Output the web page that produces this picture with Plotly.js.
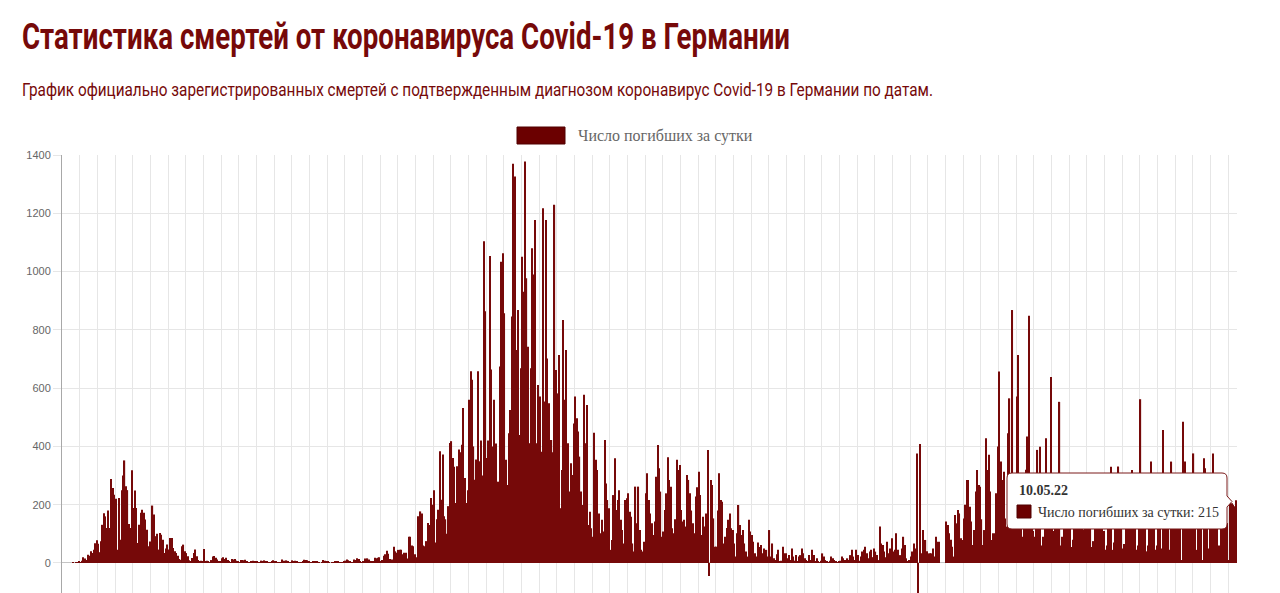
<!DOCTYPE html>
<html><head><meta charset="utf-8">
<script src="https://cdn.plot.ly/plotly-3.0.1.min.js"></script>
<style>html,body{margin:0;padding:0;background:#fff;overflow:hidden}#chart{width:1280px;height:593px}</style>
</head><body><div id="chart"></div>
<script>
// ---------- data ----------
const startDate = [2020, 2, 4]; // 04.03.2020, first day of the series (UTC y, m0, d)
const seriesName = 'Число погибших за сутки';
const chartTitle = 'Статистика смертей от коронавируса Covid-19 в Германии';
const chartSubtitle = 'График официально зарегистрированных смертей с подтвержденным диагнозом коронавирус Covid-19 в Германии по датам.';
const yTickValues = [0, 200, 400, 600, 800, 1000, 1200, 1400];

const wave1 = [0,0,0,0,0,0,0,2,0,1,
  1,5,3,8,20,15,10,28,25,40,
  34,45,68,78,66,37,75,131,171,160,
  120,180,120,288,257,234,220,45,223,80,
  250,300,352,263,250,134,120,318,189,249,
  189,69,131,172,183,172,149,114,57,74,
  71,197,166,92,100,46,103,97,80,34,
  50,63,46,86,86,51,40,34,25,14,
  11,57,63,40,34,23,9,6,17,34,
  46,23,10,6,8,6,48,5,8];
const summer2020 = [5,3,10,22,24,18,12, 7,4,16,20,14,18,10, 4,3,14,12,14,8,6,
  2,10,10,9,11,6,2, 1,7,8,6,7,4,1, 2,8,6,9,7,5,1, 2,7,9,6,7,3,1,
  1,12,8,5,9,4,1, 2,9,7,8,6,3,1, 1,6,11,10,9,5,1, 1,4,6,5,5,3,0,
  1,10,8,6,4,2,0, 1,2,5,7,6,3,1, 1,6,8,12,9,4,2, 3,12,10,16,14,6,3,
  4,15,12,16,12,7,4, 6,18,16,18,20,5, 10,25,30,42,32,14,8, 12,56,40,35,45];
const wave2Rise = [45,45,30,35,35,15,90,90,60,57,
  30,20,160,150,177,170,60,57,75,137,
  130,223,200,250,70,150,183,383,217,372,
  160,150,100,195,412,418,360,330,206,332,
  389,380,406,532,292,206,250,560,658,629,
  400,286,355,658,349,420,300,1104,864,360,
  420,1053,664,400];
const wave2Peak = [560,410,170,279,674,1034,1063,857,354,268,
  445,525,846,1370,1326,731,868,439,668,1051,
  931,1378,977,742,411,668,1080,990,1177,411,
  611,571,382,1217,554,1177,702,548,365,422,
  380,1229,662,582,714,188,319,834,560,731,
  411];
const wave2Decline = [245,342,302,479,571,497,451,365,245,199,
  577,411,542,130,176,119,90,447,354,319,
  170,102,148,108,422,273,216,188,45,79,
  233,359,182,216,250,148,113,67,216,222,
  239,176,159,67,39,262,136,262,113,45,
  39,73];
const wave3 = [239,308,216,170,136,96,142,296,405,325,
  245,90,108,182,239,363,285,262,119,102,
  150,354,319,336,182,142,148,125,302,285,
  239,180,136,102,228,260,313,233,96,159,
  125,170,388,-45,285,268,153,56,56,180,
  308,216,210,67,90,120,148,170,119,113,
  67,22,102,199,130,96,113,67,39,22,
  148,108,96,73,33,22,70,55,62,33,
  50];
const summer2021 = [16,45,22,113,22,67,16,10,30,45,
  5,8,56,33,33,16,27,10,50,22,
  8,27,5,22,27,50,33,16,10,5,
  27,10,45,27,5,16,5,3,8,33,
  22,10,5,2,8,22,16,10,5,2,
  4,8,22,16,10,5,16,10,27,45,
  22,10,45,27,8,22,39,45,56,33,
  16,39,45,20,50,39,27,10,125,67,
  62,39,20,73,33,50,85,39,45,102,
  45,20,27,50,90,62,16,5,10,22,
  39,67,50,376,-150,408,33,113,33,79,
  40,33,33,33,50,22,90,73,73,0,
  0,0,0];
const wave4 = [142,130,102,80,56,22,165,136,182,170,
  85,79,153,200,285,285,193,142,62,113,
  245,319,268,262,150,62,113,428,319,371,
  245,79,102,102,239,400,657,348,285,313,
  153,125,445,565,296];
const omicron = [868,250,180,571,714,300,150,90,260,320,
  434,848,300,200,110,90,260,388,300,399,
  60,90,280,428,300,250,638,120,110,260,
  300,240,553,60,90,250,290,295,280,230,
  55,80,260,300,300,270,240,120,115,270,
  290,295,260,230,55,75,250,290,300,260,
  200,120,110,45,60,300,250,330,45,70,
  260,290,331,240,200,50,65,230,280,300,
  250,319,240,250,45,60,260,562,290,250,
  230,40,60,280,348,270,230,45,60,260,
  300,50,456,280,240,230,200,45,348,270,
  240,220,200,250,280,10,485,348,260,230,
  220,200,60,376,270,45,240,250,230,10,
  359,325,240,50,210,260,376,250,220,200,
  60,40,230,260,280,240,137,10,210,205,
  200,195,215];

// ---------- build ----------
const deaths = [].concat(wave1, summer2020, wave2Rise, wave2Peak, wave2Decline, wave3, summer2021, wave4, omicron);
const dates = deaths.map((_, i) => {
  const d = new Date(Date.UTC(startDate[0], startDate[1], startDate[2] + i));
  return d.toISOString().slice(0, 10);
});
const lastIdx = deaths.length - 1;
const fmtDMY = s => s.slice(8, 10) + '.' + s.slice(5, 7) + '.' + s.slice(2, 4);

const DAY = 86400000;
const firstMs = Date.parse(dates[0]);
const lastMs = Date.parse(dates[lastIdx]);
const iso = ms => new Date(ms).toISOString().replace('T', ' ').slice(0, 19);

// pixel -> paper helpers (plot area 62..1237 x 155..593)
const L = 62, R = 1237, T = 155, B = 593;
const px = p => (p - L) / (R - L);
const py = p => (B - p) / (B - T);

const red = '#760909';
const swatch = '#6b0000';
const serif = '"Liberation Serif", "Times New Roman", serif';
const narrow = 'Roboto, "Liberation Sans", Arial, sans-serif';

// tooltip box path (rounded rect + caret on the right)
function tipPath(x0, y0, x1, y1, r) {
  const P = (x, y) => px(x).toFixed(5) + ',' + py(y).toFixed(5);
  const cy = 501.5;
  return 'M' + P(x0 + r, y0) + ' L' + P(x1 - r, y0) + ' Q' + P(x1, y0) + ' ' + P(x1, y0 + r) +
    ' L' + P(x1, cy - 5.5) + ' L' + P(x1 + 5, cy) + ' L' + P(x1, cy + 5.5) +
    ' L' + P(x1, y1 - r) + ' Q' + P(x1, y1) + ' ' + P(x1 - r, y1) +
    ' L' + P(x0 + r, y1) + ' Q' + P(x0, y1) + ' ' + P(x0, y1 - r) +
    ' L' + P(x0, y0 + r) + ' Q' + P(x0, y0) + ' ' + P(x0 + r, y0) + ' Z';
}

const trace = {
  type: 'bar',
  x: dates,
  y: deaths,
  name: seriesName,
  marker: {color: red, line: {width: 0}},
  hovertemplate: '%{x|%d.%m.%y}<br>' + seriesName + ': %{y}<extra></extra>'
};

const layout = {
  width: 1280, height: 593,
  margin: {l: L, r: 1280 - R, t: T, b: 0, pad: 0},
  paper_bgcolor: '#ffffff', plot_bgcolor: '#ffffff',
  showlegend: false,
  bargap: 0.2,
  title: {
    text: chartTitle, xref: 'container', yref: 'container',
    x: 22 / 1280, xanchor: 'left', y: 1 - 36 / 593, yanchor: 'middle',
    font: {family: narrow, size: 36, color: red, weight: 700}
  },
  xaxis: {
    type: 'date',
    range: [iso(firstMs - DAY / 2), iso(lastMs + DAY / 2)],
    tick0: iso(firstMs - DAY / 2), dtick: 12 * DAY,
    showticklabels: false, ticks: '',
    showgrid: true, gridcolor: '#e6e6e6', gridwidth: 1,
    zeroline: false, showline: false, fixedrange: true
  },
  yaxis: {
    range: [-103, 1400],
    tickvals: yTickValues, ticktext: yTickValues.map(String),
    showgrid: true, gridcolor: '#e6e6e6', gridwidth: 1,
    ticks: 'outside', ticklen: 8, tickcolor: '#e6e6e6',
    tickfont: {family: '"Liberation Sans", Arial, sans-serif', size: 11, color: '#666'},
    showline: true, linecolor: '#a8a8a8', linewidth: 1,
    zeroline: true, zerolinecolor: '#c4c4c4', zerolinewidth: 1,
    fixedrange: true
  },
  shapes: [
    {type: 'rect', xref: 'paper', yref: 'paper', x0: px(517), x1: px(565), y0: py(144), y1: py(127),
     fillcolor: swatch, line: {color: '#500000', width: 1}, layer: 'above'},
    {type: 'path', xref: 'paper', yref: 'paper', path: tipPath(1007, 473, 1227, 529, 5),
     fillcolor: '#ffffff', line: {color: '#7a1a1a', width: 1}, layer: 'above'},
    {type: 'rect', xref: 'paper', yref: 'paper', x0: px(1017), x1: px(1031), y0: py(518), y1: py(505),
     fillcolor: swatch, line: {color: '#500000', width: 1}, layer: 'above'}
  ],
  annotations: [
    {text: chartSubtitle, xref: 'paper', yref: 'paper', x: px(22), y: py(90),
     xanchor: 'left', yanchor: 'middle', showarrow: false,
     font: {family: narrow, size: 18, color: red}},
    {text: seriesName, xref: 'paper', yref: 'paper', x: px(576), y: py(136),
     xanchor: 'left', yanchor: 'middle', showarrow: false,
     font: {family: serif, size: 16, color: '#666'}},
    {text: '<b>' + fmtDMY(dates[lastIdx]) + '</b>', xref: 'paper', yref: 'paper', x: px(1017), y: py(490),
     xanchor: 'left', yanchor: 'middle', showarrow: false,
     font: {family: serif, size: 14, color: '#333'}},
    {text: seriesName + ': ' + deaths[lastIdx], xref: 'paper', yref: 'paper', x: px(1036), y: py(512),
     xanchor: 'left', yanchor: 'middle', showarrow: false,
     font: {family: serif, size: 14, color: '#333'}}
  ]
};

// compress a text element horizontally to a target width, keeping its left edge
function squeeze(el, targetWidth, leftPx) {
  if (!el) return;
  el.setAttribute('textLength', targetWidth);
  el.setAttribute('lengthAdjust', 'spacingAndGlyphs');
  const host = document.getElementById('chart').getBoundingClientRect();
  const r = el.getBoundingClientRect();
  const dx = leftPx - (r.left - host.left);
  const prev = el.getAttribute('transform') || '';
  el.setAttribute('transform', 'translate(' + dx.toFixed(2) + ',0) ' + prev);
}

Plotly.newPlot('chart', [trace], layout, {displayModeBar: false, responsive: false}).then(gd => {
  squeeze(gd.querySelector('.gtitle'), 768, 22);
  const sub = Array.from(gd.querySelectorAll('.annotation-text')).find(t => t.textContent === chartSubtitle);
  squeeze(sub, 911, 22);
});
</script>
</body></html>
